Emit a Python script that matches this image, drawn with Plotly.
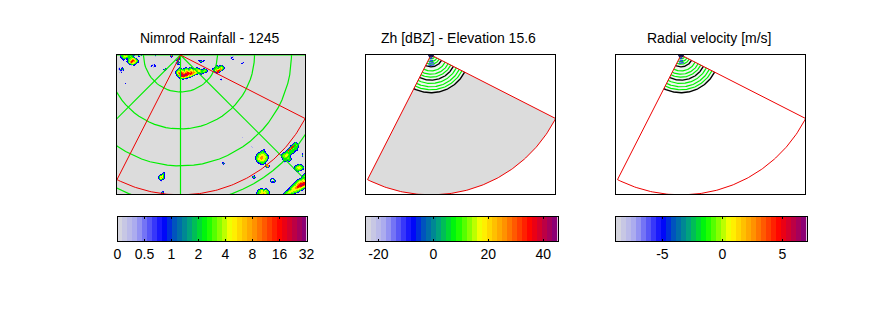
import numpy as np
import plotly.graph_objects as go

W, H = 889, 333

# Titles and colour bar labels
titles = ['Nimrod Rainfall - 1245', 'Zh [dBZ] - Elevation 15.6', 'Radial velocity [m/s]']
rain_ticks = [0, 0.5, 1, 2, 4, 8, 16, 32]
zh_ticks = [-20, 0, 20, 40]
vel_ticks = [-5, 0, 5]

# Radar geometry, km and degrees from north
ring_radii = [50, 100, 150, 200]
spoke_bearings = [90, 135, 180, 225, 270]
scan_bearings = [117, 207]
scan_range = 189

# Range gates of the radar scan, km
black_gates = [51, 34, 16]
green_gates = [47, 43, 38.5, 30, 26, 21.5, 12.5, 9, 5.5]
blue_gates_zh = [5, 8, 11, 14]
blue_gates_vel = [5, 8, 11]

# Rain colour letters
rain_levels = {'a': 0.3, 'b': 0.86, 'g': 2.45, 'l': 3.4, 'y': 4.6, 'o': 8.8, 'r': 16, 'p': 28}

# Rain patches: first column, first row, rows of 1 pixel cells
rain_patches = [
    (3, 0, ['bgglyoylggggbbb...b..b.b',
            'bgglyyylgglggb....bb',
            'bbglllggggglggb',
            '.bbgggbbggllyylgb',
            '..bbb.bbgllyooylgb',
            '...b...bglyorroylgb',
            '......bbglorrooylgb',
            '.......bgyoroyylgbb',
            '........bgllyylgb',
            '.........bbgggbb',
            '...........a.bb']),
    (1, 12, ['.a.ab', 'ab.bbg', 'abgbgb', '.abbab', '..aa', '.a.b']),
    (8, 28, ['b']),
    (33, 9, ['..aab', '.bb.bb', 'ab.abb', '...a']),
    (38, 0, ['b', 'a']),
    (53, 0, ['bob', 'brb', '.b']),
    (46, 13, ['..bg', 'bggb', '.bb']),
    (57, 1, ['......g', '.....bg', '....bb', '...bgb', '..bbg', '...bb', '.a.bgb', '..bgb', '...bbb']),
    (58, 12, ['....bb....bb..bgb....bb',
              '...bggb.bbgggbgggbbggggbb...bb',
              '..bgllgggglllgglylggglllggbbgggb',
              '.bgllyyllgyyyllyyylyyylyylgggllgb',
              'bglyyooyylyooyyooyoyyoyyylggllggb',
              'bgyoorrooyoorrooroooyylgglggggbb',
              'bgyorrrroorrrrrrrooyylggbbgbb',
              '.bgyorprrrpprrorooylgbb..bb',
              '.bggorpprpprryoyylgb',
              '..bgyyrrrrooyyllgb',
              '...bbgyyoyylggbb',
              '....bbggggbbb',
              '.....a.bb..a']),
    (81, 5, ['bbbb.bb', '.bggbb', '..bb']),
    (95, 10, ['....bb.bbgb', '...bggbggggb', '..bgglgglylgb', 'bbgglggyoylgb', 'bggllyyooogb',
              '.bgyoorrogb', '..bgorrgb', '...bbrrb', '....bb']),
    (112, 1, ['.a.aa', '..bb', '.ab.a', '...bb']),
    (124, 7, ['.ab', 'bb']),
    (103, 23, ['.a', 'bb', '.a']),
    (125, 82, ['a']),
    (105, 107, ['bb', 'bgb', '.b']),
    (138, 94, ['........bb', '......bbgb', '.....bgggbb', '...bbgglggb', '..bgglllllgb',
               '.bggllyyyllgb', '.bglyyyyyylgbb', 'bgglyyooyyylgb', 'bgllyoooyyylgb', 'bglyyoooyyllgb',
               'bglyyyoyyyllb', '.bgllyyyyllgb', '.bgglllllggb', '..bbggggggb', '...bbbgggbb',
               '.....bbbb.goy', '..........gyoob', '..........bgoob', '...........bgb']),
    (163, 87, ['..............bgb', '.............bgggb', '............bgggggb', '..........bbggrglgb',
               '..........bgrrgglgb', '.........bgrrgglggb', '........bgorglgggb', '.......bgrrlgggggb',
               '......bgrggggggbbb', '.....bggoggglgbb', '...bbgggggglggb', '..bgggllggggbb',
               '.bggllyylggb', '.bgllyyylgb', '.bgllyyylgb', '.bggllyylgb', '..bggglllggb',
               '..bggggggggb', '...bgggbggb', '...bbbb.bb', '....a']),
    (176, 109, ['....bbgbb', '..bbgggggb', '.bggllylggb', '.bglyyyylgg', 'bbgllyyllgb',
                '.bggllllgbb', '..bbgggbb', '...bbb']),
    (165, 117, ['........................bg', '......................bggl', '.....................bglyg',
                '....................bgglyg', '...................bbgllgb', '...................bggglgb',
                '.................bbgglllgb', '...............bbggglyylgg', '..............bgglllyyylgg',
                '.............bgglyyyoyylgg', '............bgglyyooorryyl', '...........bgglyoorrrrroyl',
                '..........bgglyoorrrpprryl', '.........bggllyorrpprroylg', '........bgglyyorrrrroyylgb',
                '.......bgglyyoorrooyyllgb', '......bbglyyyoooyyylggb', '.....bbgglyyyyyyyllggb',
                '....bbgllyyyyylllggbb', '...bgglyyyyllllggb', '..bgglyyylllgggbb',
                '.bgglllllgggbb', 'bggggggbbb']),
    (139, 133, ['....bbb..bb', '..bbggggbggb', '.bgglyyglylgb', '.bgllyylylllgb', 'bggllyyyyyllgb', 'bgglyyyoyylggb']),
    (153, 123, ['.bbb', 'bg.gb', 'b...gb', 'bgbbgb', '.bbbb']),
    (135, 120, ['.ab', 'bgb', 'bggb', '.bb']),
    (134, 91, ['a', '.a']),
    (41, 117, ['.....bb', '....bgb', '..bbggb', '.bggygb', 'bgyyygb', 'bgyoygb', 'bgyyggb', '.bggbb', '..bb', '...a']),
    (44, 136, ['.bb', 'bgb', 'bbb']),
    (185, 98, ['b', 'b', 'g', 'b']),
]

# Colour map
bar_colors = [[0, '#dcdcdc'], [0.1, '#a8a8f0'], [0.245, '#0000ff'], [0.3, '#0050c0'], [0.38, '#00a080'],
              [0.47, '#00ff00'], [0.6, '#ffff00'], [0.73, '#ff8c00'], [0.86, '#ff0000'], [1, '#800080']]
n_steps = 38

# Pixel layout of the panels
panel_boxes = [(117, 305), (365.5, 555), (615.5, 805)]
bar_boxes = [(117.5, 306.5), (365.5, 557.5), (615.5, 806.5)]
origins = [180.5, 431, 681]
km_px = 0.74
panel_top, panel_bottom = 55, 194
bar_top, bar_bottom = 217, 241
FONT = 'Liberation Sans'


def xy(r, bearing):
    b = np.radians(bearing)
    return r * np.sin(b), r * np.cos(b)


def arcs(radii, b0, b1):
    xs, ys = [], []
    for r in radii:
        x, y = xy(r, np.linspace(b0, b1, 80))
        xs += list(x) + [None]
        ys += list(y) + [None]
    return xs, ys


fig = go.Figure()


def line_trace(xs, ys, color, n, width=1.0, **kw):
    fig.add_trace(go.Scatter(x=xs, y=ys, mode='lines', line=dict(color=color, width=width),
                             xaxis=f'x{n}', yaxis=f'y{n}', showlegend=False, hoverinfo='skip', **kw))


def scan_outline():
    b = np.linspace(scan_bearings[0], scan_bearings[1], 120)
    x, y = xy(scan_range, b)
    return [0] + list(x) + [0], [0] + list(y) + [0]


# Rainfall grid
z = np.full((int(panel_bottom - panel_top) + 1, int(panel_boxes[0][1] - panel_boxes[0][0]) + 1), np.nan)
for col, row, rows in rain_patches:
    for i, text in enumerate(rows):
        for j, ch in enumerate(text):
            if ch != '.' and row + i < z.shape[0] and col + j < z.shape[1]:
                z[row + i, col + j] = np.interp(rain_levels[ch], rain_ticks, range(len(rain_ticks)))

cell = 1 / km_px
x_left = (panel_boxes[0][0] - origins[0]) / km_px
fig.add_trace(go.Heatmap(z=z, x0=x_left + cell / 2, dx=cell, y0=-cell / 2, dy=-cell, zmin=0, zmax=7,
                         colorscale=bar_colors, showscale=False, xaxis='x', yaxis='y', hoverinfo='skip'))

# Range rings and spokes over the rain
rx, ry = arcs(ring_radii, 0, 360)
line_trace(rx, ry, '#00ee00', 1, 1.2)
for b in spoke_bearings:
    sx, sy = xy(np.array([0, 260]), b)
    line_trace(list(sx), list(sy), '#00ee00', 1, 1.2)
ox, oy = scan_outline()
line_trace(ox, oy, '#ee0000', 1, 1.0)

# Radar panels
for n, gate_list in ((2, blue_gates_zh), (3, blue_gates_vel)):
    ox, oy = scan_outline()
    if n == 2:
        line_trace(ox, oy, '#dcdcdc', n, 0.1, fill='toself', fillcolor='#dcdcdc')
    ix, iy = arcs([black_gates[0]], *scan_bearings)
    ix = [0] + ix[:-1] + [0]
    iy = [0] + iy[:-1] + [0]
    line_trace(ix, iy, '#000000', n, 0.1, fill='toself', fillcolor='#eef6ee')
    gx, gy = arcs(green_gates, *scan_bearings)
    line_trace(gx, gy, '#00f000', n, 1.2)
    kx, ky = arcs(black_gates, *scan_bearings)
    line_trace(kx, ky, '#000000', n, 1.4)
    bx, by = arcs(gate_list, 160, 195)
    line_trace(bx, by, '#1040e0', n, 1.2)
    line_trace(ox, oy, '#ee0000', n, 1.0)
    dx, dy = arcs([1.5, 3], 0, 360)
    line_trace(dx, dy, '#101050', n, 1.4)

# Colour bars
bar_pos = (np.arange(n_steps) + 0.5) / n_steps
bar_ranges = [(0, 7), (-24.7, 45.2), (-8.9, 7.0)]
bar_tickvals = [list(range(len(rain_ticks))), zh_ticks, vel_ticks]
bar_ticktext = [[str(t) for t in rain_ticks], [str(t) for t in zh_ticks], [str(t) for t in vel_ticks]]
for i in range(3):
    lo, hi = bar_ranges[i]
    fig.add_trace(go.Heatmap(z=[list(bar_pos)], x=list(lo + bar_pos * (hi - lo)), y=[0], zmin=0, zmax=1,
                             colorscale=bar_colors, showscale=False, xaxis=f'x{i + 4}', yaxis=f'y{i + 4}',
                             hoverinfo='skip'))

layout = dict(template='none', width=W, height=H, margin=dict(l=0, r=0, t=0, b=0, autoexpand=False),
              paper_bgcolor='white', plot_bgcolor='white', showlegend=False,
              font=dict(family=FONT, color='black'))
for i in range(3):
    x0, x1 = panel_boxes[i]
    n = i + 1
    layout[f'xaxis{n}'] = dict(domain=[x0 / W, x1 / W], range=[(x0 - origins[i]) / km_px, (x1 - origins[i]) / km_px],
                               showgrid=False, zeroline=False, showticklabels=False, ticks='',
                               showline=True, mirror=True, linecolor='black', linewidth=1, anchor=f'y{n}')
    layout[f'yaxis{n}'] = dict(domain=[1 - panel_bottom / H, 1 - panel_top / H],
                               range=[-(panel_bottom - panel_top) / km_px, 0],
                               showgrid=False, zeroline=False, showticklabels=False, ticks='',
                               showline=True, mirror=True, linecolor='black', linewidth=1, anchor=f'x{n}')
    bx0, bx1 = bar_boxes[i]
    m = i + 4
    layout[f'xaxis{m}'] = dict(domain=[bx0 / W, bx1 / W], range=list(bar_ranges[i]), tickmode='array',
                               tickvals=bar_tickvals[i], ticktext=bar_ticktext[i], ticks='inside', ticklen=2,
                               tickwidth=1, tickcolor='black', showline=True, mirror='ticks', linecolor='black',
                               linewidth=1, showgrid=False, zeroline=False, tickfont=dict(size=14, family=FONT),
                               anchor=f'y{m}', tickangle=0)
    layout[f'yaxis{m}'] = dict(domain=[1 - bar_bottom / H, 1 - bar_top / H], range=[-0.5, 0.5], showgrid=False,
                               zeroline=False, showticklabels=False, ticks='', showline=True, mirror=True,
                               linecolor='black', linewidth=1, anchor=f'x{m}')
fig.update_layout(**layout)
# First panel keeps the grey no-rain background
fig.add_shape(type='rect', xref='x domain', yref='y domain', x0=0, x1=1, y0=0, y1=1,
              fillcolor='#dcdcdc', line_width=0, layer='below')

for i, title in enumerate(titles):
    suffix = '' if i == 0 else str(i + 1)
    fig.add_annotation(text=title, xref=f'x{suffix} domain', yref=f'y{suffix} domain', x=0.5, y=1, yshift=7, xshift=-1.5,
                       xanchor='center', yanchor='bottom', showarrow=False,
                       font=dict(size=14, family=FONT, color='black'))

fig.write_html("out.html", config={'displayModeBar': False},
               post_script="document.body.style.margin='0';")
